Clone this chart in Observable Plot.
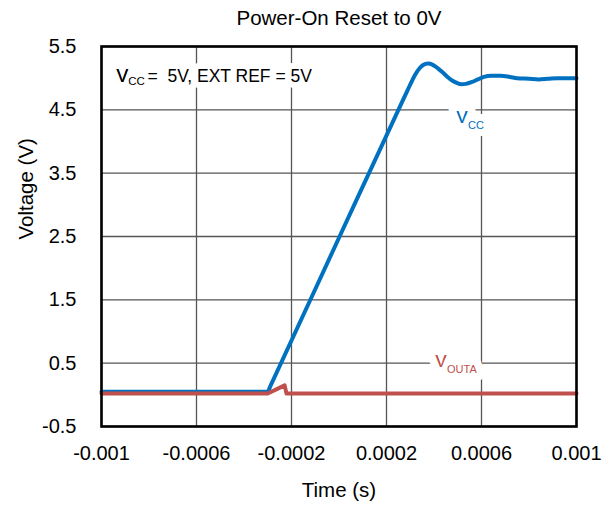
<!DOCTYPE html>
<html>
<head>
<meta charset="utf-8">
<script src="https://cdn.jsdelivr.net/npm/d3@7"></script>
<script src="https://cdn.jsdelivr.net/npm/@observablehq/plot@0.6"></script>
<style>
  html, body { margin: 0; padding: 0; background: #fff; }
  #chart svg { display: block; }
</style>
</head>
<body>
<div id="chart"></div>
<script>
// ---- data ----
const title = "Power-On Reset to 0V";
const xLabel = "Time (s)";
const yLabel = "Voltage (V)";

const xTicks = [-0.001, -0.0006, -0.0002, 0.0002, 0.0006, 0.001];
const xTickLabels = ["-0.001", "-0.0006", "-0.0002", "0.0002", "0.0006", "0.001"];
const yTicks = [-0.5, 0.5, 1.5, 2.5, 3.5, 4.5, 5.5];
const yTickLabels = ["-0.5", "0.5", "1.5", "2.5", "3.5", "4.5", "5.5"];

// V_CC trace
const vccTime = [-0.001, -0.0008, -0.0006, -0.0004, -0.0003, -0.00029, 0, 0.00028,
  0.0003, 0.00032, 0.00034, 0.000355, 0.000375, 0.000395, 0.000415, 0.000437,
  0.000457, 0.000478, 0.000499, 0.000515, 0.000534, 0.00056, 0.000584, 0.00061, 0.00064,
  0.00068, 0.00072, 0.00075, 0.0008, 0.00084, 0.00088, 0.00092, 0.00096, 0.001];
const vccVolt = [0.05, 0.05, 0.05, 0.05, 0.05, 0.13, 2.48, 4.74,
  4.9, 5.05, 5.16, 5.21, 5.23, 5.21, 5.16, 5.09,
  5.02, 4.96, 4.92, 4.905, 4.91, 4.94, 4.98, 5.02, 5.04,
  5.04, 5.02, 5.0, 4.99, 4.98, 4.99, 5.0, 5.0, 5.0];

// V_OUTA trace
const voutTime = [-0.001, -0.0006, -0.0003, -0.000229, -0.000221, -0.0002, 0.0002, 0.0006, 0.001];
const voutVolt = [0.02, 0.02, 0.02, 0.15, 0.02, 0.02, 0.02, 0.02, 0.02];

const annoMain = "V";
const annoSub = "CC";
const annoRest = "= \u00a05V, EXT REF = 5V";
const vccLabel = ["V", "CC"];
const voutLabel = ["V", "OUTA"];

const blue = "#0070C0";
const red = "#C0504D";

const vcc = vccTime.map((t, i) => ({t, v: vccVolt[i]}));
const vout = voutTime.map((t, i) => ({t, v: voutVolt[i]}));

const font = "'Liberation Sans', Arial, Helvetica, sans-serif";
const one = [0];
const T = (text, o) => Plot.text(one, {text: () => text, lineAnchor: "middle", ...o});

const chart = Plot.plot({
  width: 610,
  height: 506,
  marginTop: 46,
  marginBottom: 80,
  marginLeft: 101,
  marginRight: 34,
  style: {fontFamily: font, fontSize: "20px", background: "white", color: "black", overflow: "visible"},
  x: {domain: [-0.001, 0.001]},
  y: {domain: [-0.5, 5.5]},
  marks: [
    Plot.gridX(xTicks, {stroke: "#555", strokeOpacity: 1, strokeWidth: 1.3}),
    Plot.gridY(yTicks, {stroke: "#555", strokeOpacity: 1, strokeWidth: 1.3}),
    Plot.axisX(xTicks, {tickSize: 0, tickPadding: 19, fontSize: 20, label: null,
      tickFormat: d => xTickLabels[xTicks.indexOf(d)]}),
    Plot.axisY(yTicks, {tickSize: 0, tickPadding: 25, fontSize: 20, label: null,
      tickFormat: d => yTickLabels[yTicks.indexOf(d)]}),
    // annotation halos (white boxes hiding grid lines)
    T(annoRest, {frameAnchor: "top-left", textAnchor: "start", fontSize: 17.5,
      dx: 46, dy: 29.5, fill: "black", stroke: "white", strokeWidth: 12}),
    T(annoMain, {frameAnchor: "top-left", textAnchor: "start", fontSize: 17.5,
      dx: 15, dy: 29.5, fill: "black", stroke: "white", strokeWidth: 12}),
    T(annoSub, {frameAnchor: "top-left", textAnchor: "start", fontSize: 11.5,
      dx: 26.8, dy: 35, fill: "black"}),
    T(vccLabel[0], {frameAnchor: "top-left", textAnchor: "start", fontSize: 16.5,
      dx: 355, dy: 71.7, fill: blue, stroke: "white", strokeWidth: 16}),
    T(vccLabel[1], {frameAnchor: "top-left", textAnchor: "start", fontSize: 11,
      dx: 366.5, dy: 78.5, fill: blue, stroke: "white", strokeWidth: 14}),
    T(voutLabel[0], {frameAnchor: "top-left", textAnchor: "start", fontSize: 16.5,
      dx: 334, dy: 315.4, fill: red, stroke: "white", strokeWidth: 16}),
    T(voutLabel[1], {frameAnchor: "top-left", textAnchor: "start", fontSize: 11,
      dx: 345.5, dy: 322.5, fill: red, stroke: "white", strokeWidth: 16}),
    T(vccLabel[0], {frameAnchor: "top-left", textAnchor: "start", fontSize: 16.5,
      dx: 355, dy: 71.7, fill: blue}),
    T(voutLabel[0], {frameAnchor: "top-left", textAnchor: "start", fontSize: 16.5,
      dx: 334, dy: 315.4, fill: red}),
    T(annoMain, {frameAnchor: "top-left", textAnchor: "start", fontSize: 17.5,
      dx: 15, dy: 29.5, fill: "black"}),
    // traces
    Plot.line(vcc, {x: "t", y: "v", stroke: blue, strokeWidth: 4, curve: "monotone-x"}),
    Plot.line(vout, {x: "t", y: "v", stroke: red, strokeWidth: 4}),
    Plot.frame({stroke: "black", strokeWidth: 2.6}),
    // titles
    T(title, {frameAnchor: "top", fontSize: 20.5, dy: -27.6, fill: "black"}),
    T(xLabel, {frameAnchor: "bottom", fontSize: 20.5, dy: 64.4, fill: "black"}),
    T(yLabel, {frameAnchor: "left", fontSize: 20.5, rotate: -90, dx: -74.7, dy: 3, fill: "black"})
  ]
});
document.getElementById("chart").appendChild(chart);
</script>
</body>
</html>
